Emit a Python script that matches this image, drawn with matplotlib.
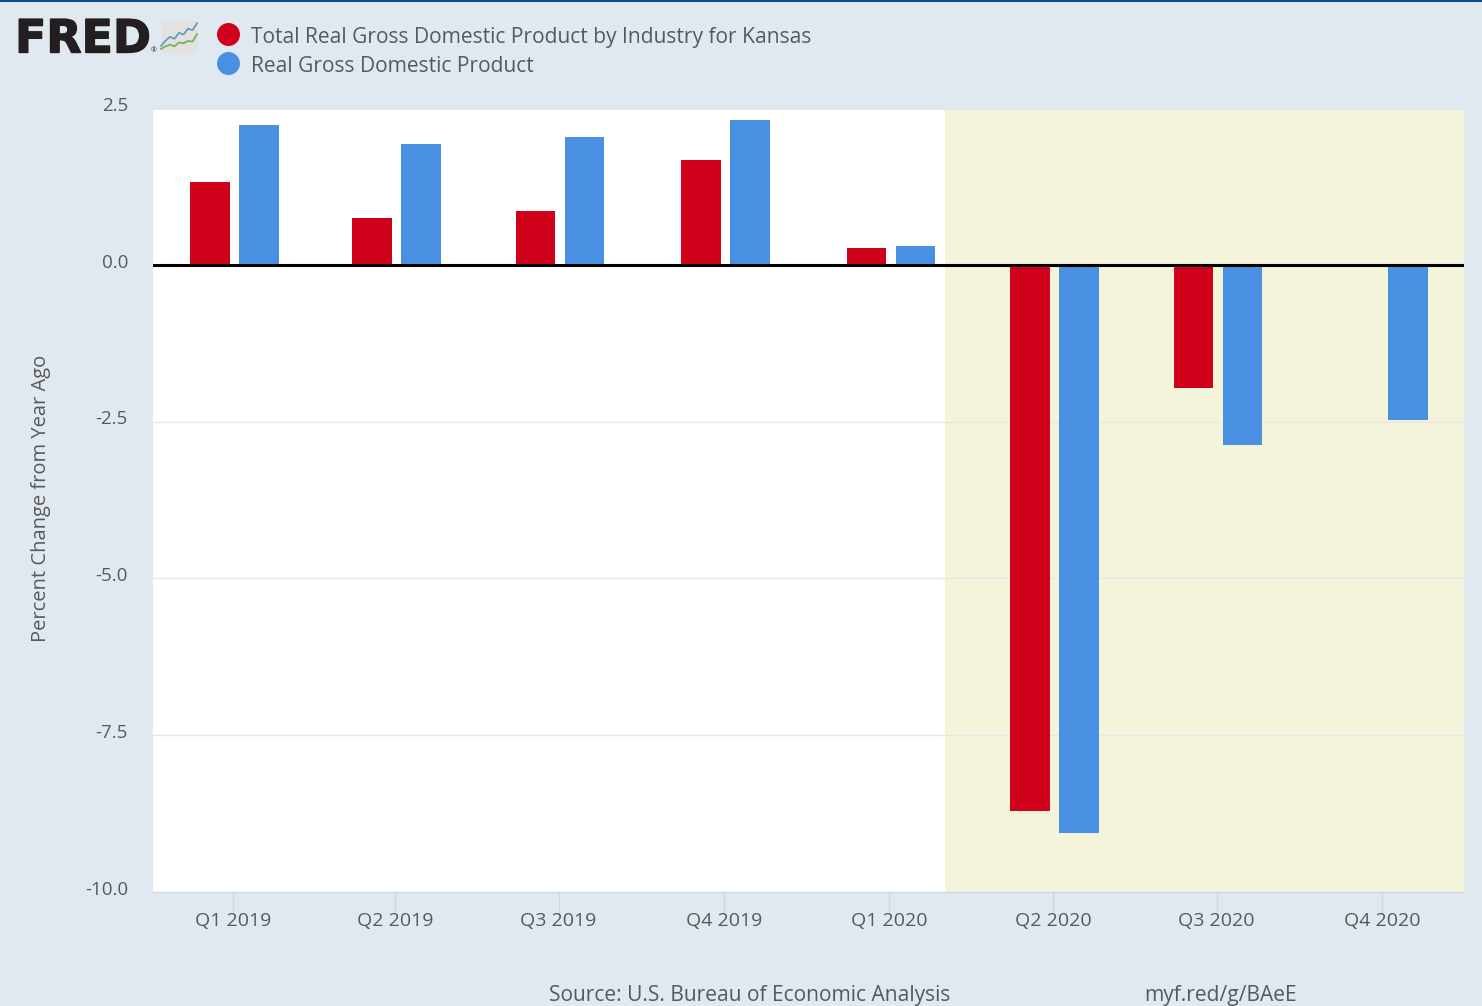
import numpy as np
import pandas as pd
import matplotlib
matplotlib.use("Agg")
import matplotlib.pyplot as plt
import matplotlib.patheffects as pe
from matplotlib.lines import Line2D
from matplotlib.patches import Rectangle, FancyBboxPatch
from matplotlib.transforms import ScaledTranslation

quarters = pd.to_datetime(["2019-01-01", "2019-04-01", "2019-07-01", "2019-10-01",
                           "2020-01-01", "2020-04-01", "2020-07-01", "2020-10-01"])
quarter_labels = ["Q1 2019", "Q2 2019", "Q3 2019", "Q4 2019",
                  "Q1 2020", "Q2 2020", "Q3 2020", "Q4 2020"]
kansas = [1.32, 0.75, 0.86, 1.67, 0.27, -8.71, -1.96, np.nan]
national = [2.23, 1.93, 2.04, 2.31, 0.30, -9.06, -2.87, -2.47]
y_ticks = [2.5, 0.0, -2.5, -5.0, -7.5, -10.0]
series_names = ["Total Real Gross Domestic Product by Industry for Kansas",
                "Real Gross Domestic Product"]
icon_blue = [0.0, 0.22, 0.38, 0.3, 0.55, 0.48, 0.72, 0.66, 0.95]
icon_green = [0.0, 0.12, 0.2, 0.12, 0.3, 0.26, 0.36, 0.34, 0.68]

W, H = 1482, 1006
BG = "#e1e9f0"
RED = "#d0021b"
BLUE = "#4a90e2"
TEXT = "#595959"
GRID = "#e6e6e6"
AXIS = "#ccd6eb"

plt.rcParams["font.family"] = ["Open Sans", "DejaVu Sans"]


def px_text(x, y, s, **kw):
    return fig.text(x / W, 1 - y / H, s, **kw)


fig = plt.figure(figsize=(W / 100, H / 100), dpi=100, facecolor=BG)

# plot area in pixels of the picture
left, right, top, bottom = 153, 1464, 108, 892
ax = fig.add_axes([left / W, 1 - bottom / H, (right - left) / W, (bottom - top) / H])

x_end = quarters[-1] + pd.Timedelta(days=45.5)
ax.set_xlim(quarters[0] - pd.Timedelta(days=44.5), x_end)
ax.set_ylim(-10, 2.5)

ax.axvspan(pd.Timestamp("2020-02-01"), x_end, color="#f4f4da", lw=0, zorder=0)
ax.add_patch(Rectangle((0, 0.9975), 1, 0.0025, transform=ax.transAxes, color=BG, lw=0, zorder=0.5))

ax.bar(quarters - pd.Timedelta(days=12.8), kansas, width=22, color=RED, zorder=3)
ax.bar(quarters + pd.Timedelta(days=14.4), national, width=22, color=BLUE, zorder=3)
ax.axhline(0, color="black", lw=2.2, zorder=4)

ax.set_yticks(y_ticks)
ax.set_yticklabels([f"{v:.1f}" for v in y_ticks])
ax.set_xticks(quarters)
ax.set_xticklabels(quarter_labels)
ax.grid(axis="y", color=GRID, lw=1, zorder=1)
ax.set_axisbelow(True)
ax.tick_params(axis="y", length=0, pad=18, labelsize=13.5, labelcolor=TEXT)
ax.tick_params(axis="x", length=15, width=1, color=AXIS, pad=-0.5, labelsize=14, labelcolor=TEXT)
# y labels sit a little above their grid lines
shift = ScaledTranslation(0, 3 / 72, fig.dpi_scale_trans)
for lab in ax.get_yticklabels():
    lab.set_transform(lab.get_transform() + shift)
for name in ["top", "left", "right"]:
    ax.spines[name].set_visible(False)
ax.spines["bottom"].set_color(AXIS)

px_text(41, 498, "Percent Change from Year Ago", rotation=90, ha="center", va="center",
        fontsize=14.5, color=TEXT)

# overlay for header and footer, in picture pixels
ov = fig.add_axes([0, 0, 1, 1], facecolor="none")
ov.set_xlim(0, W)
ov.set_ylim(H, 0)
ov.axis("off")
ov.add_patch(Rectangle((0, 0), W, 2, color="#0b4a94", lw=0))

px_text(15, 40, "FRED", fontsize=33, fontweight="bold", color="#231f20", ha="left", va="center",
        family=["DejaVu Sans"],
        path_effects=[pe.withStroke(linewidth=1, foreground="#231f20")])
px_text(151, 51, "®", fontsize=5, color="#231f20", ha="left", va="center")

# small logo icon
ov.add_patch(FancyBboxPatch((161, 21), 37, 32, boxstyle="round,pad=0,rounding_size=3",
                            fc="#e2e2e2", ec="none"))
icon_x = 161 + np.arange(len(icon_blue)) * 4.5
ov.plot(icon_x, 46 - np.array(icon_blue) * 24, color="#6a9bbd", lw=1.3)
ov.plot(icon_x, 49 - np.array(icon_green) * 22, color="#7fae5b", lw=1.3)

ov.add_line(Line2D([228], [34], marker="o", ms=15.5, color=RED, ls="none"))
ov.add_line(Line2D([228], [63], marker="o", ms=15.5, color=BLUE, ls="none"))
px_text(251, 38, series_names[0], fontsize=15.1, color=TEXT, ha="left", va="center")
px_text(251, 67, series_names[1], fontsize=15.1, color=TEXT, ha="left", va="center")

px_text(549, 996, "Source: U.S. Bureau of Economic Analysis", fontsize=15.1, color=TEXT,
        ha="left", va="center")
px_text(1144, 996, "myf.red/g/BAeE", fontsize=15.1, color=TEXT, ha="left", va="center")

fig.savefig("out.png", dpi=100, facecolor=BG)
